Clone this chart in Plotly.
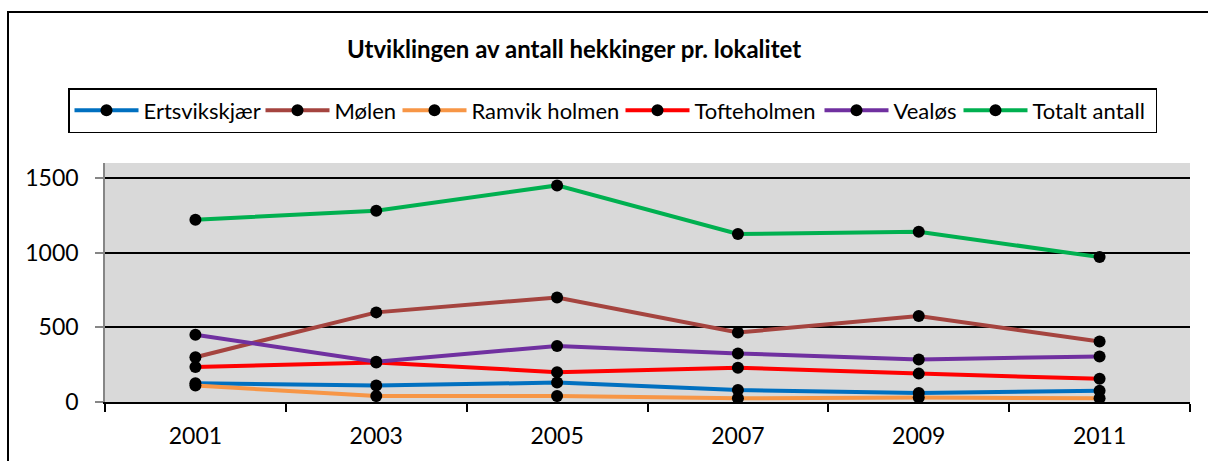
import plotly.graph_objects as go

years = ["2001", "2003", "2005", "2007", "2009", "2011"]
ertsvikskjaer = [125, 110, 130, 80, 60, 75]
molen = [300, 600, 700, 465, 575, 405]
ramvik_holmen = [110, 40, 40, 25, 30, 25]
tofteholmen = [235, 265, 200, 230, 190, 155]
vealos = [450, 270, 375, 325, 285, 305]
totalt = [1220, 1280, 1450, 1125, 1140, 970]

series_names = ["Ertsvikskjær", "Mølen", "Ramvik holmen", "Tofteholmen", "Vealøs", "Totalt antall"]
series_values = [ertsvikskjaer, molen, ramvik_holmen, tofteholmen, vealos, totalt]
series_colors = ["#0070C0", "#A5443F", "#F79646", "#FF0000", "#7030A0", "#00B050"]
legend_widths = [112, 58, 144, 120, 60, 118]  # legend entry spacing (style)

fig = go.Figure()
for name, vals, col, lw in zip(series_names, series_values, series_colors, legend_widths):
    fig.add_trace(go.Scatter(
        x=years, y=vals, name=name, mode="lines+markers",
        line=dict(color=col, width=4),
        marker=dict(color="black", size=12),
        legendwidth=lw,
    ))

W, H = 1208, 461
ml, mr, mt, mb = 105, 18, 163, 59
pw, ph = W - ml - mr, H - mt - mb

def px_x(p):
    return (p - ml) / pw

def px_y(p):
    return (H - mb - p) / ph

fig.update_layout(
    width=W, height=H,
    margin=dict(l=ml, r=mr, t=mt, b=mb),
    paper_bgcolor="white",
    plot_bgcolor="#D9D9D9",
    font=dict(family="Lato", size=20, color="black"),
    title=dict(
        text="<b>Utviklingen av antall hekkinger pr. lokalitet</b>",
        font=dict(family="Lato", size=24, color="black"),
        xref="paper", x=px_x(574), xanchor="center",
        yref="container", y=1 - 50 / H, yanchor="middle",
    ),
    legend=dict(
        orientation="h",
        x=px_x(68), xanchor="left",
        y=px_y(88), yanchor="top",
        bordercolor="black", borderwidth=1.5,
        bgcolor="white",
        font=dict(family="Lato", size=22),
        itemwidth=64,
        tracegroupgap=0,
    ),
    showlegend=True,
)

fig.update_xaxes(
    type="category",
    range=[-0.5, 5.5],
    tickson="boundaries",
    ticks="outside", ticklen=8, tickcolor="black", tickwidth=1.5,
    showline=True, linecolor="black", linewidth=2,
    showgrid=False,
    ticklabelstandoff=12,
    tickfont=dict(family="Lato", size=23),
)
fig.update_yaxes(
    range=[0, 1600],
    tickvals=[0, 500, 1000, 1500],
    ticks="outside", ticklen=8, tickcolor="#868686", tickwidth=1.5,
    showline=True, linecolor="#868686", linewidth=1.5,
    showgrid=True, gridcolor="black", gridwidth=2,
    zeroline=False,
    ticklabelstandoff=12,
    tickfont=dict(family="Lato", size=23),
)

fig.add_shape(
    type="rect", xref="paper", yref="paper",
    x0=px_x(8), x1=px_x(W + 50), y0=px_y(H + 50), y1=px_y(12),
    line=dict(color="black", width=2), fillcolor="rgba(0,0,0,0)",
    layer="below",
)

fig.write_html("out.html", config={"displayModeBar": False},
               post_script="document.body.style.margin='0';")
